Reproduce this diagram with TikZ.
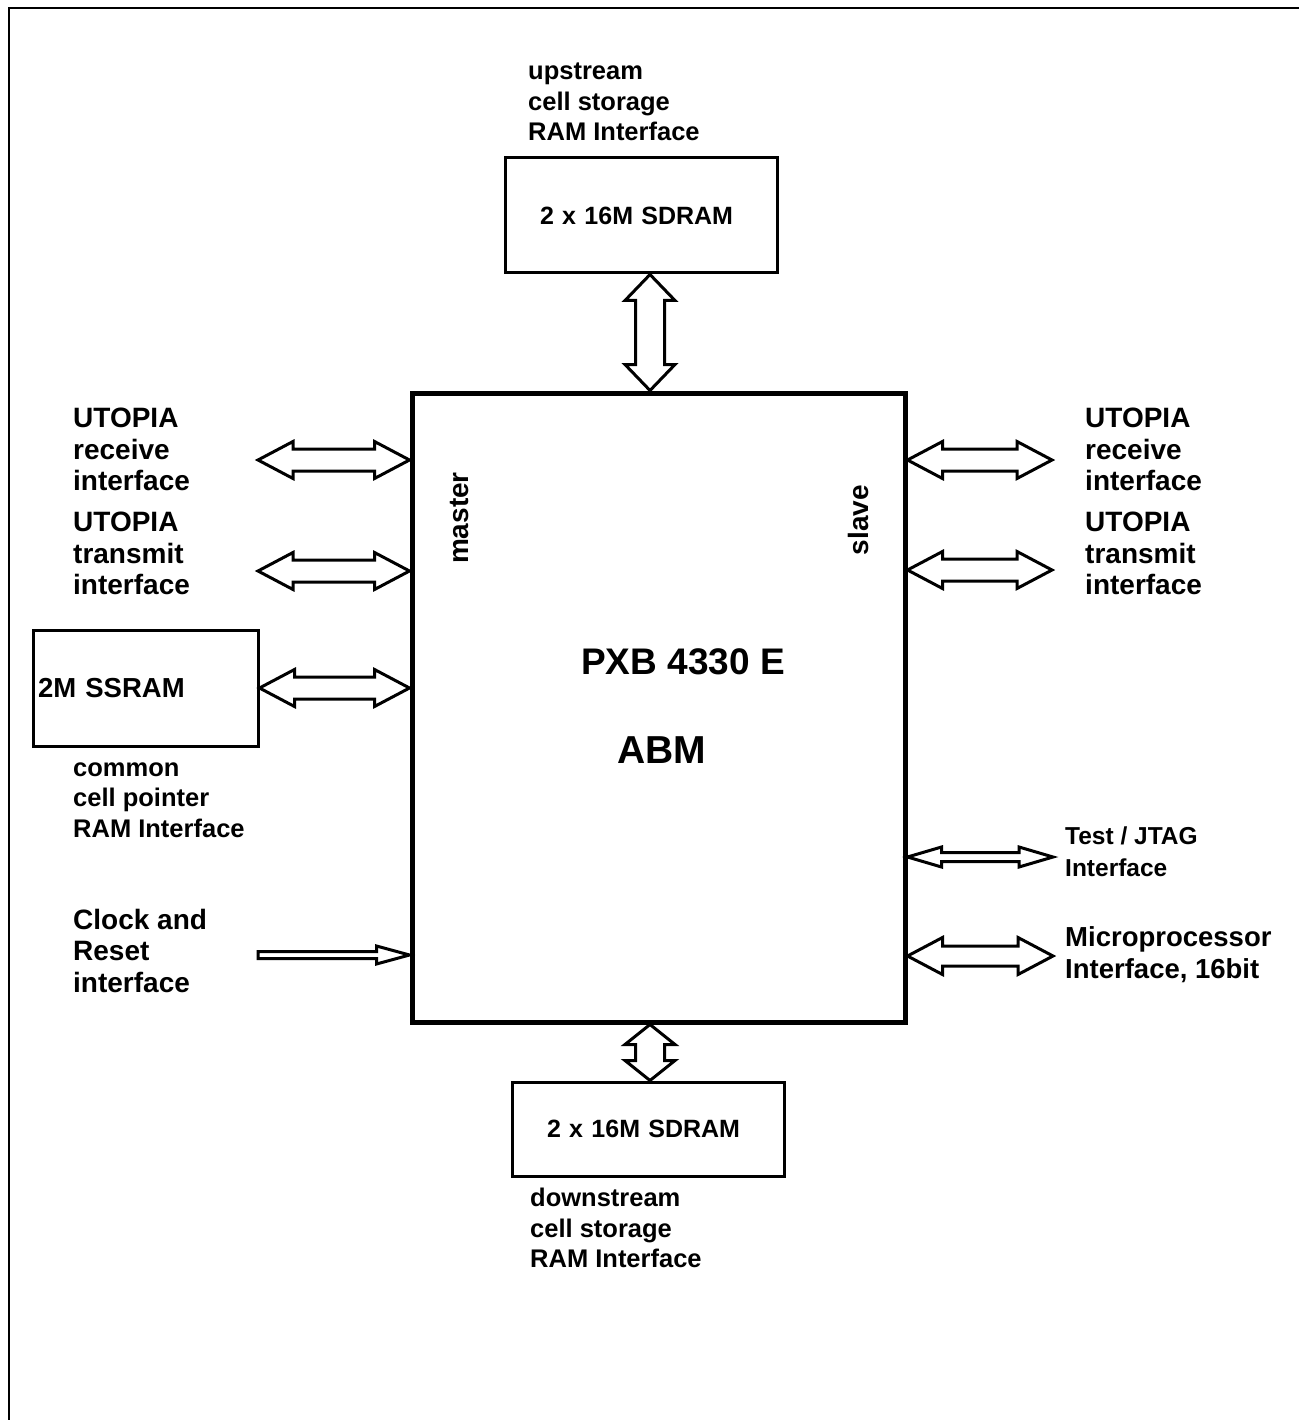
\documentclass[tikz,border=0pt]{standalone}
\usepackage{fontspec}
\setmainfont{Liberation Sans}
\usetikzlibrary{calc}

\tikzset{
  box/.style={draw, line width=3pt, inner sep=0pt, font=\fontsize{25}{30}\selectfont\bfseries},
  ram/.style={box, minimum width=272pt, text width=202pt, inner xsep=35pt, align=left},
  chipbox/.style={draw, line width=5pt, inner sep=0pt},
  bigtxt/.style={font=\fontsize{37}{44}\selectfont\bfseries, inner sep=0pt},
  lbl/.style={font=\fontsize{28}{31.5}\selectfont\bfseries, align=left, anchor=west, inner sep=0pt},
  small/.style={font=\fontsize{25.5}{30.5}\selectfont\bfseries, align=left, anchor=west, inner sep=0pt},
  fatarrow/.style={draw, fill=white, line width=3pt, line join=miter}
}

% from, to, head length, head half width, shaft half width
\newcommand{\dblarrow}[5]{%
  \draw[fatarrow] (#1) -- ($(#1)!#3!(#2)!#4!90:(#2)$) -- ($(#1)!#3!(#2)!#5!90:(#2)$)
    -- ($(#2)!#3!(#1)!#5!-90:(#1)$) -- ($(#2)!#3!(#1)!#4!-90:(#1)$) -- (#2)
    -- ($(#2)!#3!(#1)!#4!90:(#1)$) -- ($(#2)!#3!(#1)!#5!90:(#1)$)
    -- ($(#1)!#3!(#2)!#5!-90:(#2)$) -- ($(#1)!#3!(#2)!#4!-90:(#2)$) -- cycle;}
\newcommand{\onearrow}[5]{%
  \draw[fatarrow] ($(#1)!#5!90:(#2)$) -- ($(#2)!#3!(#1)!#5!-90:(#1)$)
    -- ($(#2)!#3!(#1)!#4!-90:(#1)$) -- (#2) -- ($(#2)!#3!(#1)!#4!90:(#1)$)
    -- ($(#2)!#3!(#1)!#5!90:(#1)$) -- ($(#1)!#5!-90:(#2)$) -- cycle;}

\begin{document}
\begin{tikzpicture}[x=1pt,y=-1pt]
\useasboundingbox (0,0) rectangle (1299,1420);
\draw [line width=2.5pt] (9,1420) -- (9,8) -- (1299,8);

% memories
\node[ram, minimum height=115pt] (sdramup) at (641,215.5) {2 x 16M SDRAM};
\node[ram, minimum height=94pt] (sdramdn) at (648,1129) {2 x 16M SDRAM};
\node[box, minimum width=225pt, minimum height=116pt, text width=215pt, inner xsep=5pt, align=left,
      font=\fontsize{27.5}{30}\selectfont\bfseries] (ssram) at (145.5,688) {2M SSRAM};

% the chip
\node[chipbox, minimum width=493pt, minimum height=629pt] (chip) at (658.5,707.5) {};
\node[bigtxt] (chiptype) at (683,662) {PXB 4330 E};
\node[bigtxt, font=\fontsize{39}{44}\selectfont\bfseries] (chipname) at (662,750) {ABM};
\node[lbl, anchor=center, rotate=90] (master) at (459,518) {master};
\node[lbl, anchor=center, rotate=90] (slave) at (858,520) {slave};

% labels
\node[small] (uplbl) at (528,102) {upstream\\cell storage\\RAM Interface};
\node[small] (ptrlbl) at (73,800) {common\\cell pointer\\RAM Interface};
\node[small] (dnlbl) at (530,1228) {downstream\\cell storage\\RAM Interface};
\node[lbl] (lrx) at (73,449.5) {UTOPIA\\receive\\interface};
\node[lbl] (ltx) at (73,553.5) {UTOPIA\\transmit\\interface};
\node[lbl] (clk) at (73,950.5) {Clock and\\Reset\\interface};
\node[lbl] (rrx) at (1085,449.5) {UTOPIA\\receive\\interface};
\node[lbl] (rtx) at (1085,553.5) {UTOPIA\\transmit\\interface};
\node[small, font=\fontsize{24.5}{32}\selectfont\bfseries] (jtag) at (1065,852) {Test / JTAG\\Interface};
\node[lbl, font=\fontsize{27.5}{31.5}\selectfont\bfseries] (mpi) at (1065,954.5) {Microprocessor\\Interface, 16bit};

% arrow ends
\coordinate (busx) at (650,0);
\coordinate (lrxend) at (258,460);
\coordinate (ltxend) at (258,571);
\coordinate (clkend) at (258,955);
\coordinate (rrxend) at (1052,460);
\coordinate (rtxend) at (1052,570);
\coordinate (jtagend) at (1053,857);
\coordinate (mpiend) at (1053,956);

\dblarrow{sdramup.south -| busx}{chip.north -| busx}{26pt}{25pt}{14.5pt}
\dblarrow{chip.south -| busx}{sdramdn.north -| busx}{20pt}{25pt}{14.5pt}
\dblarrow{lrxend}{chip.west |- lrxend}{35pt}{18.5pt}{11pt}
\dblarrow{ltxend}{chip.west |- ltxend}{35pt}{18.5pt}{11pt}
\dblarrow{ssram.east}{chip.west |- ssram.east}{35pt}{18.5pt}{11pt}
\onearrow{clkend}{chip.west |- clkend}{33pt}{9pt}{3.5pt}
\dblarrow{chip.east |- rrxend}{rrxend}{35pt}{18.5pt}{11pt}
\dblarrow{chip.east |- rtxend}{rtxend}{35pt}{18.5pt}{11pt}
\dblarrow{chip.east |- jtagend}{jtagend}{34pt}{10pt}{4.5pt}
\dblarrow{chip.east |- mpiend}{mpiend}{35pt}{18.5pt}{10pt}
\end{tikzpicture}
\end{document}
